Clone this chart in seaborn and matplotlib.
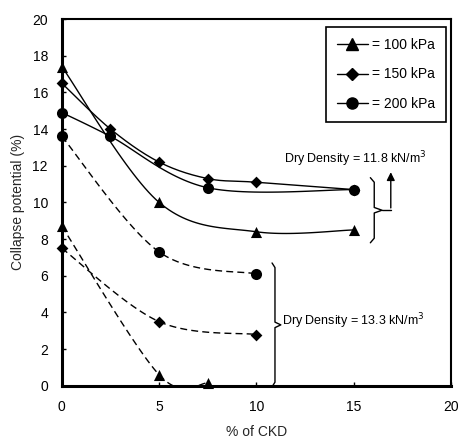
import numpy as np
import pandas as pd
import matplotlib
matplotlib.use("Agg")
import matplotlib.pyplot as plt
import seaborn as sns
from matplotlib.lines import Line2D

sns.set_theme(style="ticks")
plt.rcParams['font.family'] = ['Liberation Sans', 'DejaVu Sans']

# ---- data ----
# Dry density 11.8 kN/m3 (solid)
x_100_a = [0, 5, 10, 15]
y_100_a = [17.4, 10.0, 8.4, 8.5]
x_150_a = [0, 2.5, 5, 7.5, 10, 15]
y_150_a = [16.5, 14.0, 12.2, 11.3, 11.1, 10.7]
x_200_a = [0, 2.5, 7.5, 15]
y_200_a = [14.9, 13.6, 10.8, 10.7]
# Dry density 13.3 kN/m3 (dashed)
x_100_b = [0, 5, 7.5]
y_100_b = [8.7, 0.6, 0.15]
x_150_b = [0, 5, 10]
y_150_b = [7.5, 3.5, 2.8]
x_200_b = [0, 5, 10]
y_200_b = [13.6, 7.3, 6.1]

legend_labels = ["= 100 kPa", "= 150 kPa", "= 200 kPa"]
markers = ["^", "D", "o"]
msizes = [8, 6, 8]

x_ticks = [0, 5, 10, 15, 20]
y_ticks = list(range(0, 21, 2))


def smooth(xs, ys, n=30):
    """Bezier smoothing through the points (like a spreadsheet's smoothed line)."""
    P = np.column_stack([xs, ys]).astype(float)
    if len(P) < 3:
        return P[:, 0], P[:, 1]
    ext = np.vstack([P[0], P, P[-1]])
    out = []
    for i in range(1, len(ext) - 2):
        p0, p1, p2, p3 = ext[i - 1], ext[i], ext[i + 1], ext[i + 2]
        c1 = p1 + (p2 - p0) / 6.0
        c2 = p2 - (p3 - p1) / 6.0
        t = np.linspace(0, 1, n)[:, None]
        seg = ((1 - t) ** 3) * p1 + 3 * ((1 - t) ** 2) * t * c1 + 3 * (1 - t) * t ** 2 * c2 + t ** 3 * p2
        out.append(seg if i == 1 else seg[1:])
    out = np.vstack(out)
    return out[:, 0], out[:, 1]


fig = plt.figure(figsize=(4.58, 4.42), dpi=100)
ax = fig.add_axes([0.135, 0.127, 0.85, 0.83])

dash = (0, (5, 3))
series = [
    (x_100_a, y_100_a, 0, "-"), (x_150_a, y_150_a, 1, "-"), (x_200_a, y_200_a, 2, "-"),
    (x_100_b, y_100_b, 0, dash), (x_150_b, y_150_b, 1, dash), (x_200_b, y_200_b, 2, dash),
]
for xs, ys, k, ls in series:
    sx, sy = smooth(xs, ys)
    sns.lineplot(x=sx, y=sy, sort=False, ax=ax, color="black", lw=1.0, linestyle=ls, estimator=None)
    sns.scatterplot(x=xs, y=ys, ax=ax, marker=markers[k], s=msizes[k] ** 2, color="black",
                    edgecolor="black", linewidth=0, zorder=5)
for coll in ax.collections:
    coll.set_clip_on(False)

ax.set_xlim(0, 20)
ax.set_ylim(0, 20)
ax.set_xticks(x_ticks)
ax.set_yticks(y_ticks)
ax.tick_params(direction="in", length=3, width=1, labelsize=10, pad=10, colors="black")
for s in ax.spines.values():
    s.set_linewidth(1.5)
    s.set_color("black")
ax.spines["left"].set_linewidth(2.2)
ax.spines["bottom"].set_linewidth(2.2)
ax.set_xlabel("% of CKD", fontsize=10, labelpad=8)
ax.set_ylabel("Collapse potential (%)", fontsize=10, labelpad=5)

handles = [Line2D([0], [0], color="black", lw=1.0, marker=m, markersize=ms) for m, ms in zip(markers, msizes)]
leg = ax.legend(handles, legend_labels, loc="upper right", bbox_to_anchor=(0.987, 0.978),
                borderaxespad=0, frameon=True, fancybox=False, edgecolor="black",
                fontsize=10, labelspacing=1.1, handlelength=2.2, handletextpad=0.3,
                borderpad=0.8, framealpha=1)
leg.get_frame().set_linewidth(1.2)
for t in leg.get_texts():
    t.set_color("black")


def brace(x0, xtip, ytop, ybot):
    ym = (ytop + ybot) / 2
    w = xtip - x0
    xs = [x0 - w * 0.5, x0, x0, xtip, x0, x0, x0 - w * 0.5]
    ys = [ytop, ytop - 0.25, ym + 0.15, ym, ym - 0.15, ybot + 0.25, ybot]
    ax.plot(xs, ys, color="black", lw=1.0, solid_joinstyle="round", clip_on=False)


brace(16.05, 16.45, 11.35, 7.8)
ax.plot([16.45, 16.9], [9.6, 9.6], color="black", lw=1.0)
ax.annotate("", xy=(16.9, 11.8), xytext=(16.9, 9.55),
            arrowprops=dict(arrowstyle="-|>", color="black", lw=1.0, mutation_scale=12))
ax.text(11.4, 12.15, "Dry Density = 11.8 kN/m$^{3}$", fontsize=9, color="black", va="baseline", ha="left")

brace(10.95, 11.25, 6.7, -0.05)
ax.text(11.3, 3.55, "Dry Density = 13.3 kN/m$^{3}$", fontsize=9, color="black", va="center", ha="left")

fig.savefig("out.png", dpi=100)
